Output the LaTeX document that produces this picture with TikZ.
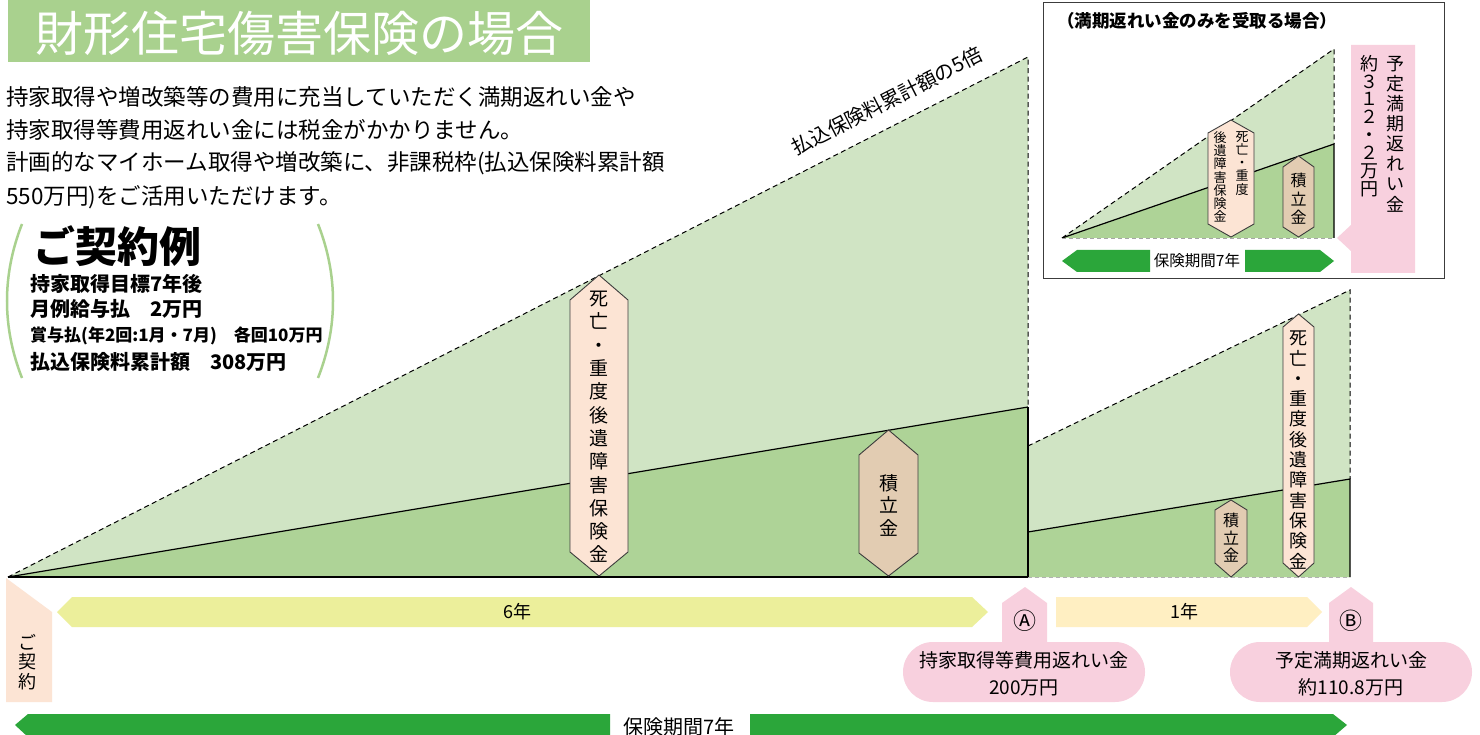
\documentclass[tikz,border=0pt]{standalone}
\usepackage{fontspec}
\setmainfont{Noto Sans CJK JP}
\newcommand\fsz[2]{\fontsize{#1}{#2}\selectfont}
\definecolor{titlegreen}{RGB}{169,209,142}
\definecolor{lgreen}{RGB}{208,228,196}
\definecolor{dgreen}{RGB}{174,211,151}
\definecolor{peach}{RGB}{252,228,212}
\definecolor{tanc}{RGB}{226,204,178}
\definecolor{pinkc}{RGB}{248,208,222}
\definecolor{yel}{RGB}{236,239,155}
\definecolor{lyel}{RGB}{255,239,194}
\definecolor{arrowgreen}{RGB}{43,166,58}
\definecolor{edgec}{RGB}{60,60,60}
\tikzset{
  dashline/.style={line width=1pt, dash pattern=on 5pt off 3.5pt, black},
  solidline/.style={line width=1.2pt, black},
  hexbox/.style={draw=edgec, line width=0.9pt},
  vtext/.style={inner sep=0pt, align=center},
  plain/.style={inner sep=0pt}
}
\begin{document}
\begin{tikzpicture}[x=1pt,y=-1pt]
\useasboundingbox (0,0) rectangle (1480,735);
\fill[white] (0,0) rectangle (1480,735);

% title
\fill[titlegreen] (8,0) rectangle (590,62);
\node[plain, text=white, font=\fsz{48}{52}] (title) at (299,33) {財形住宅傷害保険の場合};

% paragraph
\node[plain, anchor=west, font=\fsz{22.5}{27}] (p1) at (6,97) {持家取得や増改築等の費用に充当していただく満期返れい金や};
\node[plain, anchor=west, font=\fsz{22.5}{27}] (p2) at (6,130) {持家取得等費用返れい金には税金がかかりません。};
\node[plain, anchor=west, font=\fsz{22.5}{27}] (p3) at (6,163) {計画的なマイホーム取得や増改築に、非課税枠(払込保険料累計額};
\node[plain, anchor=west, font=\fsz{22.5}{27}] (p4) at (6,197) {550万円)をご活用いただけます。};

% contract example
\draw[titlegreen, line width=2.5pt] (22,224) .. controls (2,275) and (2,327) .. (22,378);
\draw[titlegreen, line width=2.5pt] (318,224) .. controls (338,275) and (338,327) .. (318,378);
\node[plain, anchor=west, font=\bfseries\fsz{42}{46}] (ex) at (33,246) {ご契約例};
\node[plain, anchor=west, font=\bfseries\fsz{20}{24}] (c1) at (30,284) {持家取得目標7年後};
\node[plain, anchor=west, font=\bfseries\fsz{20}{24}] (c2) at (30,309) {月例給与払　2万円};
\node[plain, anchor=west, font=\bfseries\fsz{17}{20}] (c3) at (30,336) {賞与払(年2回:1月・7月)　各回10万円};
\node[plain, anchor=west, font=\bfseries\fsz{20}{24}] (c4) at (30,362) {払込保険料累計額　308万円};

% main chart section 1
\fill[lgreen] (8,577) -- (1028,57) -- (1028,577) -- cycle;
\fill[dgreen] (8,577) -- (1028,407) -- (1028,577) -- cycle;
\draw[dashline] (8,577) -- (1028,57) -- (1028,407);
\draw[solidline] (8,577) -- (1028,407);
\draw[solidline] (1028,407) -- (1028,577) -- (8,577);

% section 2
\fill[lgreen] (1028,446) -- (1350,290) -- (1350,577) -- (1028,577) -- cycle;
\fill[dgreen] (1028,532) -- (1350,479) -- (1350,577) -- (1028,577) -- cycle;
\draw[dashline] (1028,446) -- (1350,290) -- (1350,479);
\draw[solidline] (1028,532) -- (1350,479) -- (1350,577);
\draw[solidline] (1028,446) -- (1028,577);
\draw[line width=0.8pt, gray!60, dash pattern=on 4pt off 3pt] (1028,577) -- (1350,577);

% label along dashed line
\node[plain, rotate=27, font=\fsz{20}{24}] (lbl) at (887,101) {払込保険料累計額の5倍};

% hexagons section 1
\filldraw[hexbox, fill=peach] (599,275) -- (628,300) -- (628,552) -- (599,576) -- (570,552) -- (570,300) -- cycle;
\node[vtext, font=\fsz{19}{23.3}] (h1) at (599,427) {死\\亡\\・\\重\\度\\後\\遺\\障\\害\\保\\険\\金};
\filldraw[hexbox, fill=tanc] (888.5,430) -- (918,455) -- (918,553) -- (888.5,576) -- (859,553) -- (859,455) -- cycle;
\node[vtext, font=\fsz{19}{22.5}] (h2) at (888.5,505) {積\\立\\金};

% hexagons section 2
\filldraw[hexbox, fill=tanc] (1231,500) -- (1247,510) -- (1247,563) -- (1231,577) -- (1215,563) -- (1215,510) -- cycle;
\node[vtext, font=\fsz{16}{17.5}] (h3) at (1231,538) {積\\立\\金};
\filldraw[hexbox, fill=peach] (1298.5,314) -- (1314,327) -- (1314,563) -- (1298.5,577) -- (1283,563) -- (1283,327) -- cycle;
\node[vtext, font=\fsz{18}{20.3}] (h4) at (1298.5,450) {死\\亡\\・\\重\\度\\後\\遺\\障\\害\\保\\険\\金};

% inset
\draw[edgec, line width=1pt] (1043,3) rectangle (1444,279);
\node[plain, font=\bfseries\fsz{17.5}{20}] (ititle) at (1197,21) {（満期返れい金のみを受取る場合）};
\fill[lgreen] (1062,238) -- (1334,49) -- (1334,238) -- cycle;
\fill[dgreen] (1062,238) -- (1334,144) -- (1334,238) -- cycle;
\draw[dashline] (1062,238) -- (1334,49) -- (1334,144);
\draw[solidline] (1062,238) -- (1334,144) -- (1334,238);
\draw[line width=0.8pt, gray!70, dash pattern=on 4pt off 3pt] (1062,238) -- (1334,238);
\filldraw[hexbox, fill=peach] (1231,120) -- (1254,133) -- (1254,224) -- (1231,237) -- (1208,224) -- (1208,133) -- cycle;
\node[vtext, anchor=north, font=\fsz{13}{13.3}] (ih1a) at (1242,131) {死\\亡\\・\\重\\度};
\node[vtext, anchor=north, font=\fsz{13}{13.3}] (ih1b) at (1220,131) {後\\遺\\障\\害\\保\\険\\金};
\filldraw[hexbox, fill=tanc] (1298.5,156) -- (1314,167) -- (1314,227) -- (1298.5,237) -- (1283,227) -- (1283,167) -- cycle;
\node[vtext, font=\fsz{16}{18.5}] (ih2) at (1298.5,199) {積\\立\\金};
\fill[pinkc] (1351,45) -- (1415,45) -- (1415,273) -- (1351,273) -- (1351,251) -- (1337,238) -- (1351,225) -- cycle;
\node[vtext, font=\fsz{18}{20.1}] (ipk1) at (1395,134) {予\\定\\満\\期\\返\\れ\\い\\金};
\node[vtext, font=\fsz{18}{17.9}] (ipk2) at (1369,126) {約\\３\\１\\２\\・\\２\\万\\円};
\fill[arrowgreen] (1062,261) -- (1077,250) -- (1150,250) -- (1150,272) -- (1077,272) -- cycle;
\fill[arrowgreen] (1245,250) -- (1320,250) -- (1334,261) -- (1320,272) -- (1245,272) -- cycle;
\node[plain, font=\fsz{15.5}{18}] (iperiod) at (1197,261) {保険期間7年};

% bottom timeline
\fill[peach] (6,578) -- (52,612) -- (52,702) -- (6,702) -- cycle;
\node[vtext, font=\fsz{18}{19.5}] (keiyaku) at (28,662) {ご\\契\\約};
\fill[yel] (57,612) -- (72,597) -- (972,597) -- (988,612) -- (972,627) -- (72,627) -- cycle;
\node[plain, font=\fsz{18}{20}] (y6) at (517,612) {6年};
\fill[lyel] (1056,597) -- (1307,597) -- (1322,612) -- (1307,627) -- (1056,627) -- cycle;
\node[plain, font=\fsz{18}{20}] (y1) at (1184,612) {1年};

\fill[pinkc] (1002,603) -- (1025,587) -- (1047,603) -- (1047,650) -- (1002,650) -- cycle;
\fill[pinkc, rounded corners=30pt] (903,642) rectangle (1145,702);
\node[plain, font=\fsz{23}{24}] (ma) at (1025,621) {Ⓐ};
\node[vtext, font=\fsz{19}{27}] (ca) at (1024,674) {持家取得等費用返れい金\\200万円};

\fill[pinkc] (1329,603) -- (1351,587) -- (1373,603) -- (1373,650) -- (1329,650) -- cycle;
\fill[pinkc, rounded corners=30pt] (1230,642) rectangle (1472,702);
\node[plain, font=\fsz{23}{24}] (mb) at (1351,621) {Ⓑ};
\node[vtext, font=\fsz{19}{27}] (cb) at (1351,674) {予定満期返れい金\\約110.8万円};

\fill[arrowgreen] (15,725) -- (28,714) -- (610,714) -- (610,737) -- (28,737) -- cycle;
\fill[arrowgreen] (750,714) -- (1333,714) -- (1347,725) -- (1333,737) -- (750,737) -- cycle;
\node[plain, font=\fsz{20}{22}] (period) at (679,727) {保険期間7年};
\end{tikzpicture}
\end{document}
